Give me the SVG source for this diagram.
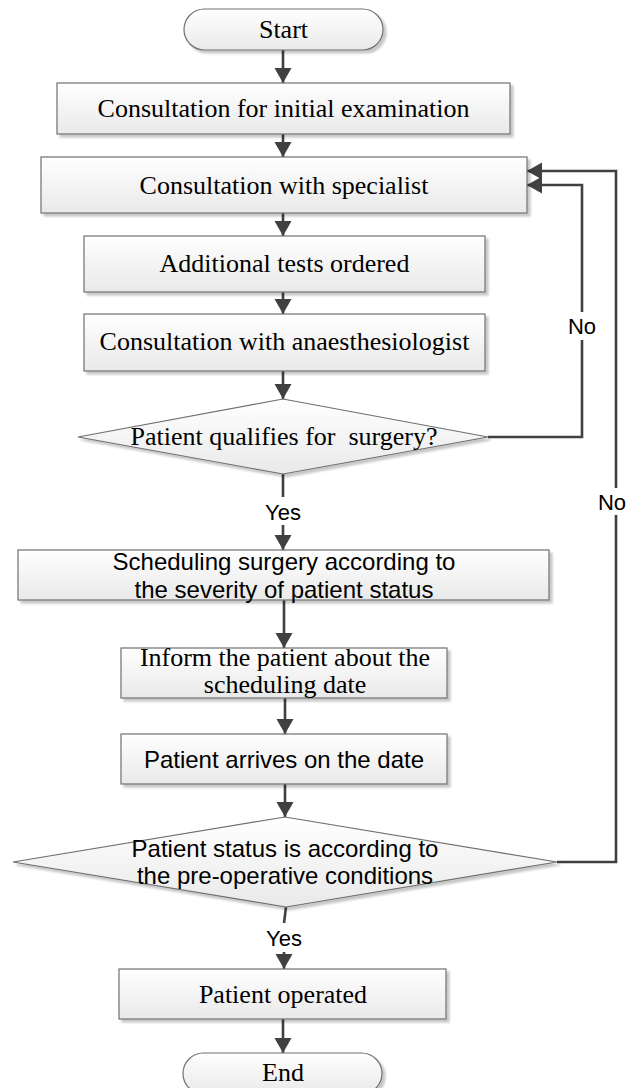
<svg xmlns="http://www.w3.org/2000/svg" width="628" height="1088" viewBox="0 0 628 1088">
<style>
.node{fill:url(#g);stroke:#707070;stroke-width:1.2;filter:url(#sh)}
.serif{font-family:"Liberation Serif","Times New Roman",serif;font-size:26px;fill:#000;text-anchor:middle}
.sans{font-family:"Liberation Sans",Arial,sans-serif;font-size:24px;fill:#000;text-anchor:middle}
.lbl{font-family:"Liberation Sans",Arial,sans-serif;font-size:22px;fill:#000;text-anchor:middle}
.conn{fill:none;stroke:#404040;stroke-width:2.6}
.arr{marker-end:url(#ah)}
</style>
<defs>
<linearGradient id="g" x1="0" y1="0" x2="0" y2="1">
<stop offset="0" stop-color="#ffffff"/>
<stop offset="1" stop-color="#e9e9e9"/>
</linearGradient>
<filter id="sh" x="-10%" y="-10%" width="120%" height="130%">
<feDropShadow dx="3" dy="3" stdDeviation="1.2" flood-color="#000" flood-opacity="0.22"/>
</filter>
<marker id="ah" markerUnits="userSpaceOnUse" markerWidth="16" markerHeight="18" refX="15" refY="8.5" orient="auto" viewBox="0 0 16 17">
<path d="M0,0 L15,8.5 L0,17 z" fill="#404040"/>
</marker>
</defs>

<g id="connectors">
<path class="conn arr" d="M283,50 V83"/>
<path class="conn arr" d="M283,134 V157"/>
<path class="conn arr" d="M283,213 V236"/>
<path class="conn arr" d="M283,292 V314"/>
<path class="conn arr" d="M283,371 V399"/>
<path class="conn arr" d="M488,437 H582 V340 M582,312 V185 H527"/>
<path class="conn" d="M283,474 V497"/>
<path class="conn arr" d="M283,525 V550"/>
<path class="conn arr" d="M284,600 V648"/>
<path class="conn arr" d="M285,698 V734"/>
<path class="conn arr" d="M285,784 V817"/>
<path class="conn arr" d="M557,862 H616 V515 M616,488 V171 H527"/>
<path class="conn" d="M286,907 L284,923"/>
<path class="conn arr" d="M284,952 V969"/>
<path class="conn arr" d="M283,1019 V1053"/>
<text class="lbl" x="582" y="334">No</text>
<text class="lbl" x="283" y="520">Yes</text>
<text class="lbl" x="612" y="510">No</text>
<text class="lbl" x="284" y="946">Yes</text>
</g>

<g id="start">
<rect class="node" x="184" y="9" width="199" height="41" rx="20.5"/>
<text class="serif" x="283.5" y="38">Start</text>
</g>
<g id="initial">
<rect class="node" x="57" y="83" width="453" height="51"/>
<text class="serif" x="283.5" y="117">Consultation for initial examination</text>
</g>
<g id="specialist">
<rect class="node" x="41" y="157" width="486" height="56"/>
<text class="serif" x="284" y="194">Consultation with specialist</text>
</g>
<g id="tests">
<rect class="node" x="84" y="236" width="401" height="56"/>
<text class="serif" x="284.5" y="272">Additional tests ordered</text>
</g>
<g id="anaesth">
<rect class="node" x="84" y="314" width="401" height="57"/>
<text class="serif" x="284.5" y="350">Consultation with anaesthesiologist</text>
</g>
<g id="qualifies">
<polygon class="node" points="283,399 488,437 283,474 78,437"/>
<text class="serif" x="284" y="445" style="white-space:pre">Patient qualifies for  surgery?</text>
</g>
<g id="scheduling">
<rect class="node" x="18" y="550" width="531" height="50"/>
<text class="sans" x="284" y="570">Scheduling surgery according to</text>
<text class="sans" x="284" y="598">the severity of patient status</text>
</g>
<g id="inform">
<rect class="node" x="121" y="648" width="326" height="50"/>
<text class="serif" x="285" y="666">Inform the patient about the</text>
<text class="serif" x="285" y="693">scheduling date</text>
</g>
<g id="arrives">
<rect class="node" x="121" y="734" width="326" height="50"/>
<text class="sans" x="284" y="768">Patient arrives on the date</text>
</g>
<g id="preop">
<polygon class="node" points="285,817 557,862 286,907 13,862"/>
<text class="sans" x="285" y="857">Patient status is according to</text>
<text class="sans" x="285" y="884">the pre-operative conditions</text>
</g>
<g id="operated">
<rect class="node" x="119" y="969" width="327" height="50"/>
<text class="serif" x="283" y="1003">Patient operated</text>
</g>
<g id="end">
<rect class="node" x="183" y="1053" width="199" height="41" rx="20.5"/>
<text class="serif" x="283" y="1081">End</text>
</g>
</svg>
